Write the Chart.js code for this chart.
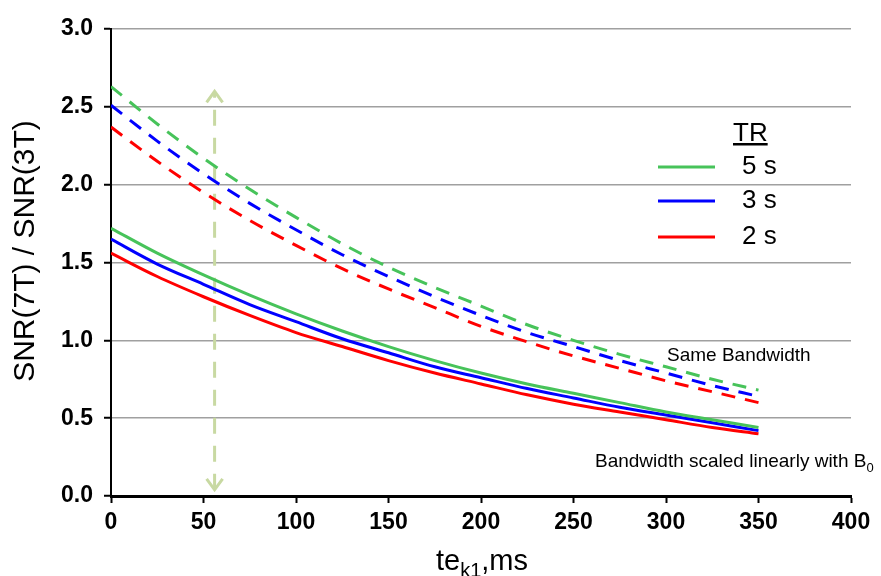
<!DOCTYPE html>
<html>
<head>
<meta charset="utf-8">
<script src="https://cdn.jsdelivr.net/npm/chart.js@4.4.1/dist/chart.umd.min.js"></script>
<style>
  html, body { margin: 0; padding: 0; background: #ffffff; }
  #wrap { width: 881px; height: 576px; }
</style>
</head>
<body>
<div id="wrap"><canvas id="c" width="881" height="576"></canvas></div>
<script>
// echo time te_k1 (ms)
const teMs = [0, 25, 50, 75, 100, 125, 150, 175, 200, 225, 250, 275, 300, 325, 350];

// Same bandwidth (dashed)
const sameBwTR5 = [2.63, 2.39, 2.17, 1.97, 1.79, 1.62, 1.47, 1.34, 1.22, 1.10, 1.00, 0.91, 0.83, 0.75, 0.68];
const sameBwTR3 = [2.51, 2.28, 2.07, 1.88, 1.71, 1.55, 1.41, 1.28, 1.16, 1.05, 0.96, 0.87, 0.79, 0.71, 0.64];
const sameBwTR2 = [2.37, 2.15, 1.95, 1.77, 1.61, 1.46, 1.33, 1.21, 1.09, 0.99, 0.90, 0.82, 0.74, 0.67, 0.60];

// Bandwidth scaled linearly with B0 (solid)
const scaledBwTR5 = [1.72, 1.56, 1.42, 1.29, 1.17, 1.06, 0.96, 0.87, 0.79, 0.72, 0.66, 0.60, 0.54, 0.49, 0.44];
const scaledBwTR3 = [1.65, 1.49, 1.36, 1.23, 1.12, 1.01, 0.92, 0.83, 0.76, 0.69, 0.63, 0.57, 0.52, 0.47, 0.42];
const scaledBwTR2 = [1.56, 1.41, 1.28, 1.16, 1.05, 0.96, 0.87, 0.79, 0.72, 0.65, 0.59, 0.54, 0.49, 0.44, 0.40];

// double arrow marker
const arrowX = [56, 56];
const arrowY = [0.04, 2.60];

const legendLabels = ['5 s', '3 s', '2 s'];
const xTicks = [0, 50, 100, 150, 200, 250, 300, 350, 400];
const yTicks = [0, 0.5, 1.0, 1.5, 2.0, 2.5, 3.0];

const GREEN = '#47c35a', BLUE = '#0000ff', RED = '#ff0000', ARROW = '#c8d9a2';

function pts(xs, ys) { return xs.map((x, i) => ({ x: x, y: ys[i] })); }

function lineDs(label, ys, color, dashed) {
  return {
    label: label,
    data: pts(teMs, ys),
    borderColor: color,
    backgroundColor: color,
    borderWidth: 3,
    borderDash: dashed ? [14, 10] : [],
    pointRadius: 0,
    tension: 0.4,
    cubicInterpolationMode: 'monotone',
    fill: false,
    order: 1
  };
}

const overlay = {
  id: 'overlay',
  afterDatasetsDraw(chart) {
    const ctx = chart.ctx;
    const xs = chart.scales.x, ys = chart.scales.y;
    ctx.save();
    // arrow heads
    const ax = xs.getPixelForValue(arrowX[0]);
    const yTop = ys.getPixelForValue(arrowY[1]);
    const yBot = ys.getPixelForValue(arrowY[0]);
    ctx.strokeStyle = ARROW;
    ctx.lineWidth = 3;
    ctx.setLineDash([]);
    ctx.beginPath();
    ctx.moveTo(ax - 8, yTop + 11); ctx.lineTo(ax, yTop); ctx.lineTo(ax + 8, yTop + 11);
    ctx.moveTo(ax - 8, yBot - 11); ctx.lineTo(ax, yBot); ctx.lineTo(ax + 8, yBot - 11);
    ctx.stroke();

    // legend
    ctx.fillStyle = '#000';
    ctx.font = '26px "Liberation Sans", Arial, sans-serif';
    ctx.textBaseline = 'alphabetic';
    ctx.textAlign = 'left';
    ctx.fillText('TR', 733, 141);
    const trW = ctx.measureText('TR').width;
    ctx.fillRect(733, 143, trW, 2.5);
    const colors = [GREEN, BLUE, RED];
    const ly = [167, 201, 237];
    ctx.textBaseline = 'middle';
    for (let i = 0; i < 3; i++) {
      ctx.strokeStyle = colors[i];
      ctx.lineWidth = 3;
      ctx.beginPath();
      ctx.moveTo(658, ly[i]); ctx.lineTo(715, ly[i]);
      ctx.stroke();
      ctx.fillText(legendLabels[i], 742, ly[i]);
    }

    // annotations
    ctx.textBaseline = 'alphabetic';
    ctx.font = '19px "Liberation Sans", Arial, sans-serif';
    ctx.fillText('Same Bandwidth', 667, 361);
    const t2 = 'Bandwidth scaled linearly with B';
    ctx.fillText(t2, 595, 467);
    const w2 = ctx.measureText(t2).width;
    ctx.font = '13px "Liberation Sans", Arial, sans-serif';
    ctx.fillText('0', 595 + w2, 472);

    // y axis title
    ctx.save();
    ctx.translate(26, 251);
    ctx.rotate(-Math.PI / 2);
    ctx.font = '30px "Liberation Sans", Arial, sans-serif';
    ctx.textAlign = 'center';
    ctx.textBaseline = 'middle';
    ctx.fillText('SNR(7T) / SNR(3T)', 0, 0);
    ctx.restore();

    // x axis title
    ctx.textAlign = 'left';
    ctx.textBaseline = 'alphabetic';
    let x = 436;
    const base = 570;
    ctx.font = '29px "Liberation Sans", Arial, sans-serif';
    ctx.fillText('te', x, base); x += ctx.measureText('te').width;
    ctx.font = '20px "Liberation Sans", Arial, sans-serif';
    ctx.fillText('k1', x, base + 7); x += ctx.measureText('k1').width;
    ctx.font = '29px "Liberation Sans", Arial, sans-serif';
    ctx.fillText(',ms', x, base);
    ctx.restore();
  }
};

const chart = new Chart(document.getElementById('c'), {
  type: 'line',
  data: {
    datasets: [
      lineDs('TR 5 s, same BW', sameBwTR5, GREEN, true),
      lineDs('TR 3 s, same BW', sameBwTR3, BLUE, true),
      lineDs('TR 2 s, same BW', sameBwTR2, RED, true),
      lineDs('TR 5 s, scaled BW', scaledBwTR5, GREEN, false),
      lineDs('TR 3 s, scaled BW', scaledBwTR3, BLUE, false),
      lineDs('TR 2 s, scaled BW', scaledBwTR2, RED, false),
      {
        label: 'arrow',
        data: pts(arrowX, arrowY),
        borderColor: ARROW,
        borderWidth: 3,
        borderDash: [16, 12],
        pointRadius: 0,
        fill: false,
        order: 10
      }
    ]
  },
  options: {
    responsive: false,
    animation: false,
    devicePixelRatio: 1,
    layout: { padding: { top: 29, right: 30, left: 0, bottom: 0 } },
    plugins: { legend: { display: false }, tooltip: { enabled: false }, title: { display: false } },
    scales: {
      x: {
        type: 'linear',
        min: 0, max: 400,
        afterFit(s) { s.height = 80; },
        afterBuildTicks(s) { s.ticks = xTicks.map(v => ({ value: v })); },
        grid: { drawOnChartArea: false, drawTicks: true, tickLength: 7, tickColor: '#000', tickWidth: 2 },
        border: { display: true, color: '#000', width: 3 },
        ticks: {
          color: '#000', padding: 6,
          font: { family: '"Liberation Sans", Arial, sans-serif', size: 23, weight: 'bold' },
          maxRotation: 0, autoSkip: false,
          callback: v => String(v)
        }
      },
      y: {
        type: 'linear',
        min: 0, max: 3,
        afterFit(s) { s.width = 111; },
        afterBuildTicks(s) { s.ticks = yTicks.map(v => ({ value: v })); },
        grid: { color: '#a0a0a0', lineWidth: 1.5, drawTicks: true, tickLength: 7, tickColor: '#000', tickWidth: 2 },
        border: { display: true, color: '#000', width: 2 },
        ticks: {
          color: '#000', padding: 11,
          font: { family: '"Liberation Sans", Arial, sans-serif', size: 23, weight: 'bold' },
          autoSkip: false,
          callback: v => Number(v).toFixed(1)
        }
      }
    }
  },
  plugins: [overlay]
});
</script>
</body>
</html>
